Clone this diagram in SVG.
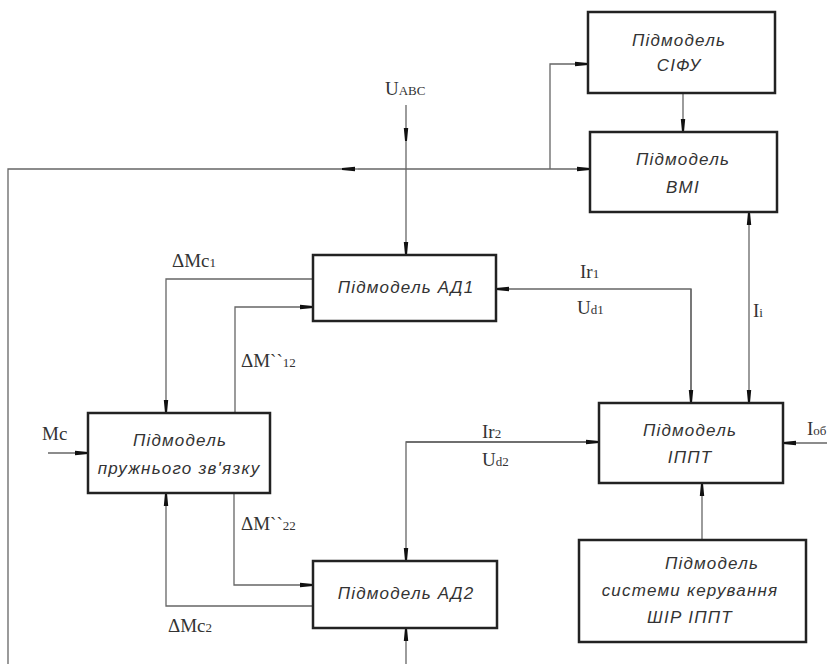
<svg xmlns="http://www.w3.org/2000/svg" width="827" height="664" viewBox="0 0 827 664">
<style>
.box{fill:#fff;stroke:#222;stroke-width:2.5}
.bt{font-family:"Liberation Sans","DejaVu Sans",sans-serif;font-style:italic;font-size:17px;fill:#333;text-anchor:middle;letter-spacing:1.2px}
.lb{font-family:"Liberation Serif","Times New Roman",serif;font-size:19px;fill:#333}
.sub{font-size:13px}
.ln{fill:none;stroke:#666;stroke-width:1.3}
</style>
<defs>
<marker id="ah" markerUnits="userSpaceOnUse" markerWidth="14" markerHeight="6" refX="13" refY="3" orient="auto">
<path d="M0,0.8 L13,2 L13,4 L0,5.2 z" fill="#111"/>
</marker>
</defs>
<rect width="827" height="664" fill="#fff"/>
<g id="connectors">
<path class="ln" d="M550,169 L590,169" marker-end="url(#ah)"/>
<path class="ln" d="M550,169 L550,64 L588,64" marker-end="url(#ah)"/>
<path class="ln" d="M550,169 L358,169"/>
<path class="ln" d="M358,169 L342,169" marker-end="url(#ah)"/>
<path class="ln" d="M342,169 L8,169 L8,664"/>
<path class="ln" d="M683,93 L683,132" marker-end="url(#ah)"/>
<path class="ln" d="M406,105 L406,141" marker-end="url(#ah)"/>
<path class="ln" d="M406,141 L406,255" marker-end="url(#ah)"/>
<path class="ln" d="M313,279 L166,279 L166,413" marker-end="url(#ah)"/>
<path class="ln" d="M235,413 L235,307 L313,307" marker-end="url(#ah)"/>
<path class="ln" d="M48,453 L88,453" marker-end="url(#ah)"/>
<path class="ln" d="M234,493 L234,585 L313,585" marker-end="url(#ah)"/>
<path class="ln" d="M313,606 L166,606 L166,493" marker-end="url(#ah)"/>
<path class="ln" d="M691,403 L691,289 L496,289" marker-end="url(#ah)"/>
<path class="ln" d="M691,289 L691,403" marker-end="url(#ah)"/>
<path class="ln" d="M749,308 L749,212" marker-end="url(#ah)"/>
<path class="ln" d="M749,308 L749,403" marker-end="url(#ah)"/>
<path class="ln" d="M599,442 L406,442 L406,561" marker-end="url(#ah)"/>
<path class="ln" d="M406,442 L599,442" marker-end="url(#ah)"/>
<path class="ln" d="M827,443 L783,443" marker-end="url(#ah)"/>
<path class="ln" d="M702,540 L702,483" marker-end="url(#ah)"/>
<path class="ln" d="M406,664 L406,628" marker-end="url(#ah)"/>
</g>
<g id="sifu">
<rect class="box" x="588" y="12" width="187" height="81"/>
<text class="bt" x="679" y="46">Підмодель</text>
<text class="bt" x="679" y="71">СІФУ</text>
</g>
<g id="vmi">
<rect class="box" x="590" y="132" width="187" height="80"/>
<text class="bt" x="683" y="165">Підмодель</text>
<text class="bt" x="683" y="193">ВМІ</text>
</g>
<g id="ad1">
<rect class="box" x="313" y="255" width="183" height="66"/>
<text class="bt" x="406" y="293">Підмодель АД1</text>
</g>
<g id="spring">
<rect class="box" x="88" y="413" width="182" height="80"/>
<text class="bt" x="180" y="446">Підмодель</text>
<text class="bt" x="179" y="474">пружнього зв'язку</text>
</g>
<g id="ad2">
<rect class="box" x="313" y="561" width="184" height="67"/>
<text class="bt" x="406" y="599">Підмодель АД2</text>
</g>
<g id="ippt">
<rect class="box" x="599" y="403" width="184" height="80"/>
<text class="bt" x="690" y="436">Підмодель</text>
<text class="bt" x="690" y="463">ІППТ</text>
</g>
<g id="shir">
<rect class="box" x="579" y="540" width="227" height="102"/>
<text class="bt" x="712" y="569">Підмодель</text>
<text class="bt" x="690" y="596">системи керування</text>
<text class="bt" x="690" y="623">ШІР ІППТ</text>
</g>
<g id="labels">
<text class="lb" x="385" y="95">U<tspan class="sub">ABC</tspan></text>
<text class="lb" x="172" y="267">ΔMc<tspan class="sub">1</tspan></text>
<text class="lb" x="241" y="367">ΔM``<tspan class="sub">12</tspan></text>
<text class="lb" x="42" y="440">Mc</text>
<text class="lb" x="241" y="530">ΔM``<tspan class="sub">22</tspan></text>
<text class="lb" x="168" y="632">ΔMc<tspan class="sub">2</tspan></text>
<text class="lb" x="580" y="278">Ir<tspan class="sub">1</tspan></text>
<text class="lb" x="577" y="314">U<tspan class="sub">d1</tspan></text>
<text class="lb" x="753" y="317">I<tspan class="sub">i</tspan></text>
<text class="lb" x="482" y="438">Ir<tspan class="sub">2</tspan></text>
<text class="lb" x="482" y="466">U<tspan class="sub">d2</tspan></text>
<text class="lb" x="807" y="435">I<tspan class="sub">об</tspan></text>
</g>
</svg>
